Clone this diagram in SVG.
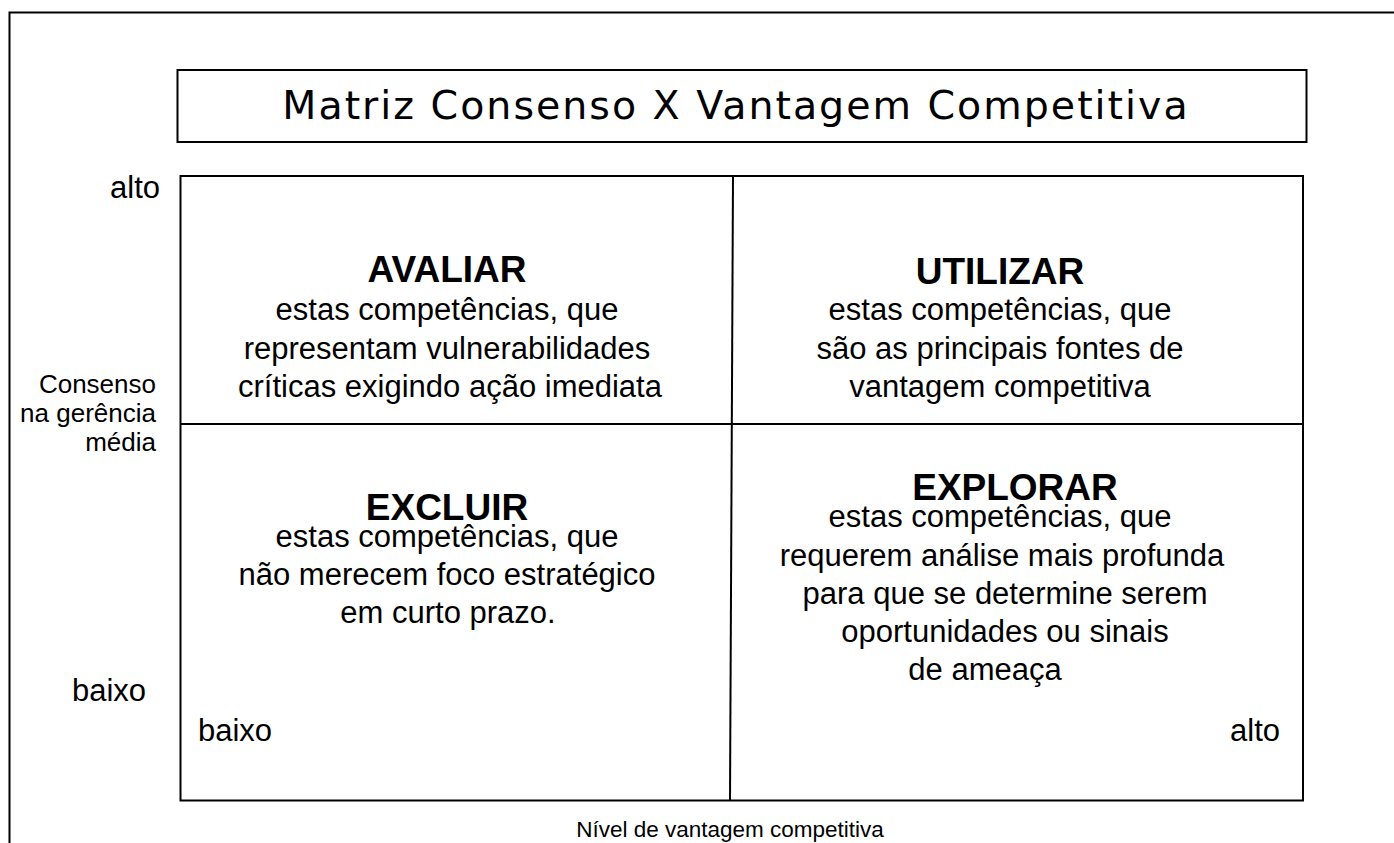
<svg xmlns="http://www.w3.org/2000/svg" width="1394" height="843" viewBox="0 0 1394 843">
<style>
.ln{fill:none;stroke:#000;stroke-width:2}
.t{font-family:"Liberation Sans",Arial,sans-serif;fill:#000}
.b{font-size:31px;text-anchor:middle}
.h{font-size:37px;font-weight:bold;text-anchor:middle}
.ax{font-size:31px}
.sm{font-size:26px;text-anchor:end}
</style>
<rect width="1394" height="843" fill="#fff"/>
<path class="ln" d="M9.5,843 V12.5 H1394" stroke-width="1.5"/>
<g id="title">
<rect class="ln" x="177.5" y="70" width="1129" height="72"/>
<text x="736" y="119" font-family="DejaVu Sans, Verdana, sans-serif" font-size="39.5" letter-spacing="2" text-anchor="middle" fill="#000">Matriz Consenso X Vantagem Competitiva</text>
</g>
<g id="matrix">
<rect class="ln" x="180.5" y="176" width="1122.5" height="624.5"/>
</g>
<g id="connectors">
<line class="ln" x1="733" y1="176" x2="730" y2="800.5"/>
<line class="ln" x1="180.5" y1="424" x2="1303" y2="424"/>
</g>
<g id="avaliar">
<text class="t h" x="447" y="282">AVALIAR</text>
<text class="t b" x="447" y="320">estas competências, que</text>
<text class="t b" x="447" y="359">representam vulnerabilidades</text>
<text class="t b" x="450" y="397">críticas exigindo ação imediata</text>
</g>
<g id="utilizar">
<text class="t h" x="1000" y="284">UTILIZAR</text>
<text class="t b" x="1000" y="320">estas competências, que</text>
<text class="t b" x="1000" y="359">são as principais fontes de</text>
<text class="t b" x="1000" y="397">vantagem competitiva</text>
</g>
<g id="excluir">
<text class="t h" x="447" y="520">EXCLUIR</text>
<text class="t b" x="447" y="547">estas competências, que</text>
<text class="t b" x="447" y="585">não merecem foco estratégico</text>
<text class="t b" x="448" y="623">em curto prazo.</text>
</g>
<g id="explorar">
<text class="t h" x="1015" y="500">EXPLORAR</text>
<text class="t b" x="1000" y="527">estas competências, que</text>
<text class="t b" x="1002" y="566">requerem análise mais profunda</text>
<text class="t b" x="1005" y="604">para que se determine serem</text>
<text class="t b" x="1005" y="642">oportunidades ou sinais</text>
<text class="t b" x="985" y="680">de ameaça</text>
</g>
<g id="axis-labels">
<text class="t ax" x="160" y="198" text-anchor="end">alto</text>
<text class="t sm" x="156" y="393">Consenso</text>
<text class="t sm" x="156" y="422">na gerência</text>
<text class="t sm" x="156" y="451">média</text>
<text class="t ax" x="72" y="701">baixo</text>
<text class="t ax" x="198" y="741">baixo</text>
<text class="t ax" x="1280" y="741" text-anchor="end">alto</text>
<text class="t" x="730" y="837" font-size="22.5" text-anchor="middle">Nível de vantagem competitiva</text>
</g>
</svg>
